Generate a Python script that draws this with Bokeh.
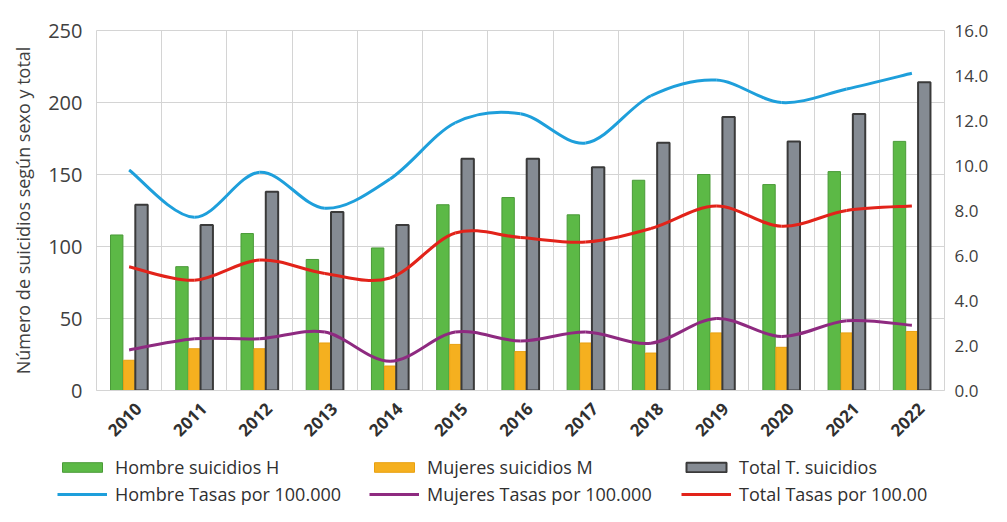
from math import pi
from bokeh.plotting import figure
from bokeh.models import (Range1d, LinearAxis, FixedTicker, PrintfTickFormatter,
                          Legend, LegendItem)
from bokeh.embed import file_html
from bokeh.resources import INLINE

years = ["2010", "2011", "2012", "2013", "2014", "2015", "2016",
         "2017", "2018", "2019", "2020", "2021", "2022"]
hombre_suicidios = [108, 86, 109, 91, 99, 129, 134, 122, 146, 150, 143, 152, 173]
mujeres_suicidios = [21, 29, 29, 33, 17, 32, 27, 33, 26, 40, 30, 40, 41]
total_suicidios = [129, 115, 138, 124, 115, 161, 161, 155, 172, 190, 173, 192, 214]
hombre_tasa = [9.8, 7.7, 9.7, 8.1, 9.4, 11.9, 12.3, 11.0, 13.1, 13.8, 12.8, 13.4, 14.1]
mujeres_tasa = [1.8, 2.3, 2.3, 2.6, 1.3, 2.6, 2.2, 2.6, 2.1, 3.2, 2.4, 3.1, 2.9]
total_tasa = [5.5, 4.9, 5.8, 5.2, 5.0, 7.0, 6.8, 6.6, 7.2, 8.2, 7.3, 8.0, 8.2]

FONT = "Open Sans"
n = len(years)
xc = [i + 0.5 for i in range(n)]

C_H, C_M, C_T = "#5cb946", "#f5b01f", "#858b93"
E_H, E_M, E_T = "#4a9a38", "#e8a010", "#3a3a3a"
L_H, L_M, L_T = "#1e9fdb", "#8e2a80", "#e2231a"

p = figure(width=991, height=448, output_backend="svg", toolbar_location=None,
           x_range=Range1d(0, n), y_range=Range1d(0, 250),
           min_border_left=96, min_border_right=38, min_border_top=30,
           min_border_bottom=58)
p.extra_y_ranges = {"tasa": Range1d(0, 16)}

p.outline_line_color = "#d4d4d4"
p.background_fill_color = "white"
p.xgrid.ticker = FixedTicker(ticks=list(range(n + 1)))
p.xgrid.grid_line_color = "#d4d4d4"
p.ygrid.grid_line_color = "#d4d4d4"

# left axis
p.yaxis.ticker = FixedTicker(ticks=[0, 50, 100, 150, 200, 250])
p.yaxis.axis_label = "Número de suicidios según sexo y total"
p.yaxis.axis_label_text_font = FONT
p.yaxis.axis_label_text_font_size = "18px"
p.yaxis.axis_label_text_font_style = "normal"
p.yaxis.axis_label_text_color = "#404040"
p.yaxis.axis_label_standoff = 10
p.yaxis.major_label_text_font = FONT
p.yaxis.major_label_text_font_size = "20px"
p.yaxis.major_label_text_color = "#404040"
p.yaxis.axis_line_color = None
p.yaxis.major_tick_line_color = None
p.yaxis.minor_tick_line_color = None
p.yaxis.major_label_standoff = 8

# right axis
ra = LinearAxis(y_range_name="tasa", ticker=FixedTicker(ticks=[0, 2, 4, 6, 8, 10, 12, 14, 16]),
                formatter=PrintfTickFormatter(format="%.1f"))
ra.major_label_text_font = FONT
ra.major_label_text_font_size = "17px"
ra.major_label_text_color = "#404040"
ra.axis_line_color = None
ra.major_tick_line_color = None
ra.minor_tick_line_color = None
ra.major_label_standoff = 4
p.add_layout(ra, "right")

# x axis (labels nudged so the rotated text centres under each group)
lab_pos = [v + 0.14 for v in xc]
p.xaxis.ticker = FixedTicker(ticks=lab_pos)
p.xaxis.major_label_overrides = {x: y for x, y in zip(lab_pos, years)}
p.xaxis.major_label_orientation = pi / 4
p.xaxis.major_label_text_font = FONT
p.xaxis.major_label_text_font_size = "17px"
p.xaxis.major_label_text_font_style = "bold"
p.xaxis.major_label_text_color = "#303030"
p.xaxis.axis_line_color = "#d4d4d4"
p.xaxis.major_tick_line_color = None
p.xaxis.minor_tick_line_color = None
p.xaxis.major_label_standoff = 9

bw = 0.19
p.vbar(x=[v - bw for v in xc], top=hombre_suicidios, width=bw, bottom=0,
       fill_color=C_H, line_color=E_H, line_width=1)
p.vbar(x=xc, top=mujeres_suicidios, width=bw * 0.9, bottom=0,
       fill_color=C_M, line_color=E_M, line_width=1)
p.vbar(x=[v + bw for v in xc], top=total_suicidios, width=bw, bottom=0,
       fill_color=C_T, line_color=E_T, line_width=2)


def smooth(ys, color):
    # cubic Bezier segments through the data points (spreadsheet-style smoothing)
    x0, y0, x1, y1, cx0, cy0, cx1, cy1 = [], [], [], [], [], [], [], []
    m = len(ys)
    for i in range(m - 1):
        xp, yp = (xc[i - 1], ys[i - 1]) if i > 0 else (xc[i], ys[i])
        xn, yn = (xc[i + 2], ys[i + 2]) if i + 2 < m else (xc[i + 1], ys[i + 1])
        x0.append(xc[i]); y0.append(ys[i]); x1.append(xc[i + 1]); y1.append(ys[i + 1])
        cx0.append(xc[i] + (xc[i + 1] - xp) / 6); cy0.append(ys[i] + (ys[i + 1] - yp) / 6)
        cx1.append(xc[i + 1] - (xn - xc[i]) / 6); cy1.append(ys[i + 1] - (yn - ys[i]) / 6)
    return p.bezier(x0=x0, y0=y0, x1=x1, y1=y1, cx0=cx0, cy0=cy0, cx1=cx1, cy1=cy1,
                    line_color=color, line_width=3, y_range_name="tasa")


smooth(hombre_tasa, L_H)
smooth(mujeres_tasa, L_M)
smooth(total_tasa, L_T)

# legend strip: same series with hidden renderers, only the legend is shown
q = figure(width=991, height=58, output_backend="svg", toolbar_location=None,
           x_range=Range1d(0, n), y_range=Range1d(0, 250),
           min_border_left=0, min_border_right=0, min_border_top=0,
           min_border_bottom=0)
q.axis.visible = False
q.grid.visible = False
q.outline_line_color = None
gh = q.vbar(x=xc, top=hombre_suicidios, width=bw, fill_color=C_H, line_color=E_H, visible=False)
gm = q.vbar(x=xc, top=mujeres_suicidios, width=bw, fill_color=C_M, line_color=E_M, visible=False)
gt = q.vbar(x=xc, top=total_suicidios, width=bw, fill_color=C_T, line_color=E_T,
            line_width=2, visible=False)
kh = q.line(x=xc, y=hombre_tasa, line_color=L_H, line_width=3, visible=False)
km = q.line(x=xc, y=mujeres_tasa, line_color=L_M, line_width=3, visible=False)
kt = q.line(x=xc, y=total_tasa, line_color=L_T, line_width=3, visible=False)


def make_legend(items, y):
    return Legend(items=items, location=(57, y), orientation="horizontal",
                  glyph_width=50, glyph_height=12, label_width=245, label_height=20,
                  spacing=9, label_standoff=8, padding=0, margin=0,
                  label_text_font=FONT, label_text_font_size="18px",
                  label_text_color="#303030", border_line_color=None,
                  background_fill_alpha=0, inactive_fill_alpha=0)


q.add_layout(make_legend([
    LegendItem(label="Hombre suicidios H", renderers=[gh]),
    LegendItem(label="Mujeres suicidios M", renderers=[gm]),
    LegendItem(label="Total T. suicidios", renderers=[gt]),
], 27))
q.add_layout(make_legend([
    LegendItem(label="Hombre Tasas por 100.000", renderers=[kh]),
    LegendItem(label="Mujeres Tasas por 100.000", renderers=[km]),
    LegendItem(label="Total Tasas por 100.00", renderers=[kt]),
], 0))

open("out.html", "w").write(file_html([p, q], INLINE))
